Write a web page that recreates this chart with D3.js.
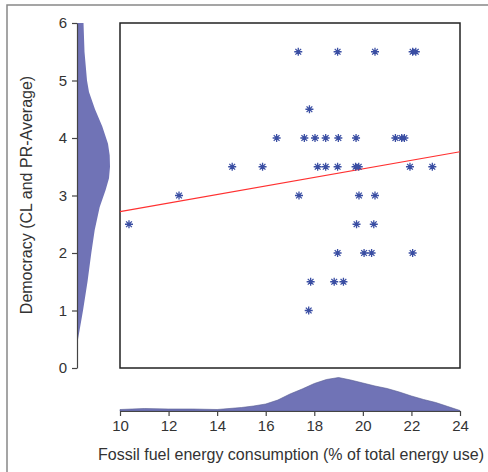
<!DOCTYPE html>
<html>
<head>
<meta charset="utf-8">
<script src="https://cdn.jsdelivr.net/npm/d3@7"></script>
<style>
  body { margin: 0; background: #fff; }
  text { font-family: "Liberation Sans", Arial, sans-serif; fill: #333; }
</style>
</head>
<body>
<svg id="chart" width="488" height="472"></svg>
<script>
// scatter points
var fossil = [17.34, 18.96, 20.5, 22.05, 22.18,
  17.8,
  16.45, 17.59, 18.03, 18.47, 18.99, 19.72, 21.34, 21.6, 21.71,
  14.62, 15.87, 18.14, 18.47, 18.96, 19.7, 19.83, 21.94, 22.86,
  12.43, 17.37, 19.84, 20.5,
  10.37, 19.74, 20.45,
  18.96, 20.05, 20.36, 22.05,
  17.85, 18.82, 19.2,
  17.77];
var democracy = [5.5, 5.5, 5.5, 5.5, 5.5,
  4.5,
  4, 4, 4, 4, 4, 4, 4, 4, 4,
  3.5, 3.5, 3.5, 3.5, 3.5, 3.5, 3.5, 3.5, 3.5,
  3, 3, 3, 3,
  2.5, 2.5, 2.5,
  2, 2, 2, 2,
  1.5, 1.5, 1.5,
  1];

// fitted line ends
var fitX = [10, 24];
var fitY = [2.72, 3.76];

// marginal density of x (bottom)
var xDensX = [10, 11, 12, 13, 14, 15, 15.5, 16, 16.5, 17, 17.5, 18, 18.5, 19, 19.5, 20, 20.5, 21, 21.5, 22, 22.5, 23, 23.5, 24];
var xDensV = [1.5, 2.5, 2, 2, 1.5, 3.5, 5, 7, 11, 17, 22, 27.5, 31.5, 33.5, 31, 28, 25, 22.5, 19, 15, 11.5, 8.5, 4.5, 0.5];

// marginal density of y (left)
var yDensY = [0, 0.42, 0.5, 1, 1.5, 2, 2.4, 2.8, 3.1, 3.3, 3.5, 3.7, 3.9, 4.2, 4.5, 4.8, 5, 5.5, 6];
var yDensV = [0, 0, 1, 6, 10.5, 14.3, 17.7, 22.7, 28.7, 32, 33, 32.7, 31, 25.3, 18, 12, 10, 7.5, 6.5];

var xTicks = [10, 12, 14, 16, 18, 20, 22, 24];
var yTicks = [0, 1, 2, 3, 4, 5, 6];

var svg = d3.select("#chart");

var x = d3.scaleLinear().domain([10, 24]).range([120, 460]);
var y = d3.scaleLinear().domain([0, 6]).range([368, 23]);
var dens = d3.scaleLinear().domain([0, 34]).range([0, 34]);

var axisX = 77, axisY = 411;

// outer frame
svg.append("rect")
  .attr("x", 7).attr("y", 5)
  .attr("width", 520).attr("height", 520)
  .attr("fill", "none").attr("stroke", "#888").attr("stroke-width", 1.5);

// left density
var leftArea = d3.area()
  .y(function(d, i) { return y(yDensY[i]); })
  .x0(axisX)
  .x1(function(d) { return axisX + dens(d); });
svg.append("path")
  .attr("d", leftArea(yDensV))
  .attr("fill", "#7073b6");

// bottom density
var botArea = d3.area()
  .x(function(d, i) { return x(xDensX[i]); })
  .y0(axisY)
  .y1(function(d) { return axisY - dens(d); });
svg.append("path")
  .attr("d", botArea(xDensV))
  .attr("fill", "#7073b6")
  .attr("stroke", "#555a90").attr("stroke-width", 0.6);

// axes
var gy = svg.append("g")
  .attr("transform", "translate(" + axisX + ",0)")
  .call(d3.axisLeft(y).tickValues(yTicks).tickFormat(d3.format("d")).tickSize(5).tickPadding(5).tickSizeOuter(0));
var gx = svg.append("g")
  .attr("transform", "translate(0," + axisY + ")")
  .call(d3.axisBottom(x).tickValues(xTicks).tickFormat(d3.format("d")).tickSize(5).tickPadding(4).tickSizeOuter(0));
[gx, gy].forEach(function(g) {
  g.selectAll("path, line").attr("stroke", "#444").attr("stroke-width", 1.2);
  g.selectAll("text").style("font-size", "15px").attr("fill", "#333")
    .style("font-family", "'Liberation Sans', Arial, sans-serif");
});

// plot box
svg.append("rect")
  .attr("x", x(10)).attr("y", y(6))
  .attr("width", x(24) - x(10)).attr("height", y(0) - y(6))
  .attr("fill", "none").attr("stroke", "#222").attr("stroke-width", 1.5);

// regression line
svg.append("line")
  .attr("x1", x(fitX[0])).attr("y1", y(fitY[0]))
  .attr("x2", x(fitX[1])).attr("y2", y(fitY[1]))
  .attr("stroke", "#ff3030").attr("stroke-width", 1.1);

// asterisk markers
var r = 4, r2 = r * 0.72;
var star = "M" + (-r) + ",0L" + r + ",0M0," + (-r) + "L0," + r +
  "M" + (-r2) + "," + (-r2) + "L" + r2 + "," + r2 +
  "M" + (-r2) + "," + r2 + "L" + r2 + "," + (-r2);
svg.append("g").selectAll("path")
  .data(fossil)
  .enter().append("path")
  .attr("transform", function(d, i) { return "translate(" + x(d) + "," + y(democracy[i]) + ")"; })
  .attr("d", star)
  .attr("fill", "none")
  .attr("stroke", "#3a4ea3")
  .attr("stroke-width", 1.3);

// titles
svg.append("text")
  .attr("x", 291).attr("y", 460)
  .attr("text-anchor", "middle")
  .style("font-size", "16px")
  .text("Fossil fuel energy consumption (% of total energy use)");
svg.append("text")
  .attr("transform", "translate(32,195) rotate(-90)")
  .attr("text-anchor", "middle")
  .style("font-size", "16px")
  .text("Democracy (CL and PR-Average)");
</script>
</body>
</html>
